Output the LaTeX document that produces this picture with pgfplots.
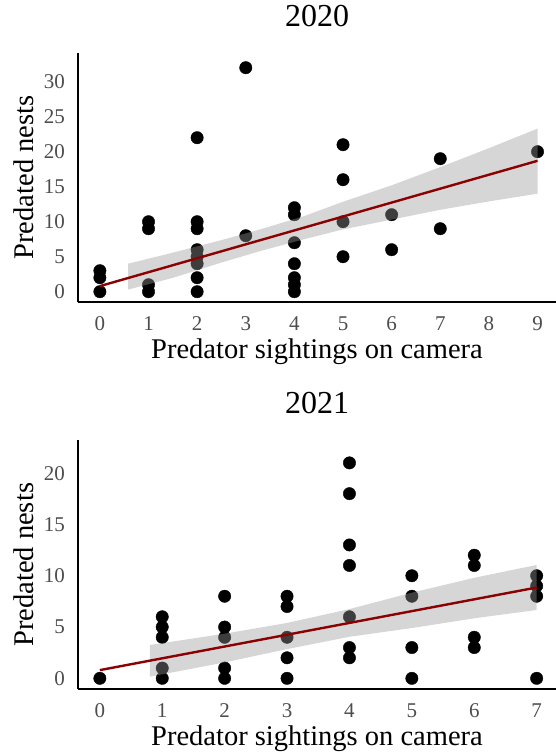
\documentclass[border=0pt]{standalone}
\usepackage{fontspec}
\setmainfont{Liberation Serif}
\usepackage{pgfplots}
\pgfplotsset{compat=1.18}

\definecolor{tickgray}{RGB}{77,77,77}
\definecolor{fitred}{RGB}{139,0,0}
\definecolor{bandgray}{RGB}{153,153,153}

\pgfplotsset{
  panel/.style={
    width=478pt, height=249pt, scale only axis,
    clip marker paths=true,
    axis x line*=bottom, axis y line*=left,
    axis line style={line width=2.2pt, black, -},
    major tick length=0pt,
    tick label style={font=\fontsize{21}{21}\selectfont, text=tickgray,
      /pgf/number format/assume math mode=true},
    xticklabel style={anchor=base, inner sep=0pt, yshift=-28pt},
    yticklabel style={anchor=east, inner sep=0pt, xshift=-13pt},
    xlabel={Predator sightings on camera},
    ylabel={Predated nests},
    every axis x label/.style={at={(axis description cs:0.5,-0.227)}, anchor=base,
      font=\fontsize{28.5}{28.5}\selectfont, inner sep=0pt},
    every axis y label/.style={at={(axis description cs:-0.094,0.5)}, rotate=90, anchor=base,
      font=\fontsize{28.5}{28.5}\selectfont, inner sep=0pt},
    title style={font=\fontsize{32}{32}\selectfont, inner sep=0pt,
      at={(axis description cs:0.5,1.082)}, anchor=base},
  },
  pts/.style={only marks, mark=*, black, mark size=6.2pt},
  band/.style={fill=bandgray, fill opacity=0.4, draw=none},
  fit/.style={fitred, line width=2.4pt, no marks},
}

\begin{document}
\begin{tikzpicture}
\useasboundingbox (-78pt,-453pt) rectangle (478pt,302pt);

% 2020
\begin{axis}[panel, title={2020},
  xmin=-0.45, xmax=9.38, ymin=-1.47, ymax=34.1,
  xtick={0,1,...,9}, ytick={0,5,...,30}]
\addplot[pts] coordinates {
  (0,0) (0,2) (0,3)
  (1,10) (1,9) (1,1) (1,0)
  (2,22) (2,10) (2,9) (2,6) (2,5) (2,4) (2,2) (2,0)
  (3,32) (3,8)
  (4,12) (4,11) (4,7) (4,4) (4,2) (4,1) (4,0)
  (5,21) (5,16) (5,10) (5,5)
  (6,11) (6,6)
  (7,19) (7,9)
  (9,20)
};
\addplot[band] coordinates {
  (0.58,4.0) (1.5,5.58) (2.5,7.37) (3.3,8.91) (4.2,10.8) (5,12.85)
  (6,15.2) (7,17.8) (8,20.5) (9,23.3)
  (9,14.0) (8,12.9) (7,11.7) (6,10.3) (5,8.9) (4.2,7.5) (3.3,5.81)
  (2.5,4.17) (1.5,1.98) (0.58,0.3)
};
\addplot[fit] coordinates {(0,0.8) (9,18.7)};
\end{axis}

% 2021
\begin{axis}[panel, title={2021}, at={(0,-387.3pt)},
  xmin=-0.35, xmax=7.31, ymin=-1.07, ymax=23.2,
  xtick={0,1,...,7}, ytick={0,5,...,20}]
\addplot[pts] coordinates {
  (0,0)
  (1,6) (1,5) (1,4) (1,1) (1,0)
  (2,8) (2,5) (2,4) (2,1) (2,0)
  (3,8) (3,7) (3,4) (3,2) (3,0)
  (4,21) (4,18) (4,13) (4,11) (4,6) (4,3) (4,2)
  (5,10) (5,8) (5,3) (5,0)
  (6,12) (6,11) (6,4) (6,3)
  (7,10) (7,9) (7,8) (7,0)
};
\addplot[band] coordinates {
  (0.8,3.25) (2,4.35) (3,5.4) (4,6.75) (5,8.35) (6,9.8) (7,11.05)
  (7,6.66) (6,5.85) (5,4.9) (4,4.05) (3,2.85) (2,1.55) (0.8,0.16)
};
\addplot[fit] coordinates {(0,0.8) (7,8.85)};
\end{axis}
\end{tikzpicture}
\end{document}
